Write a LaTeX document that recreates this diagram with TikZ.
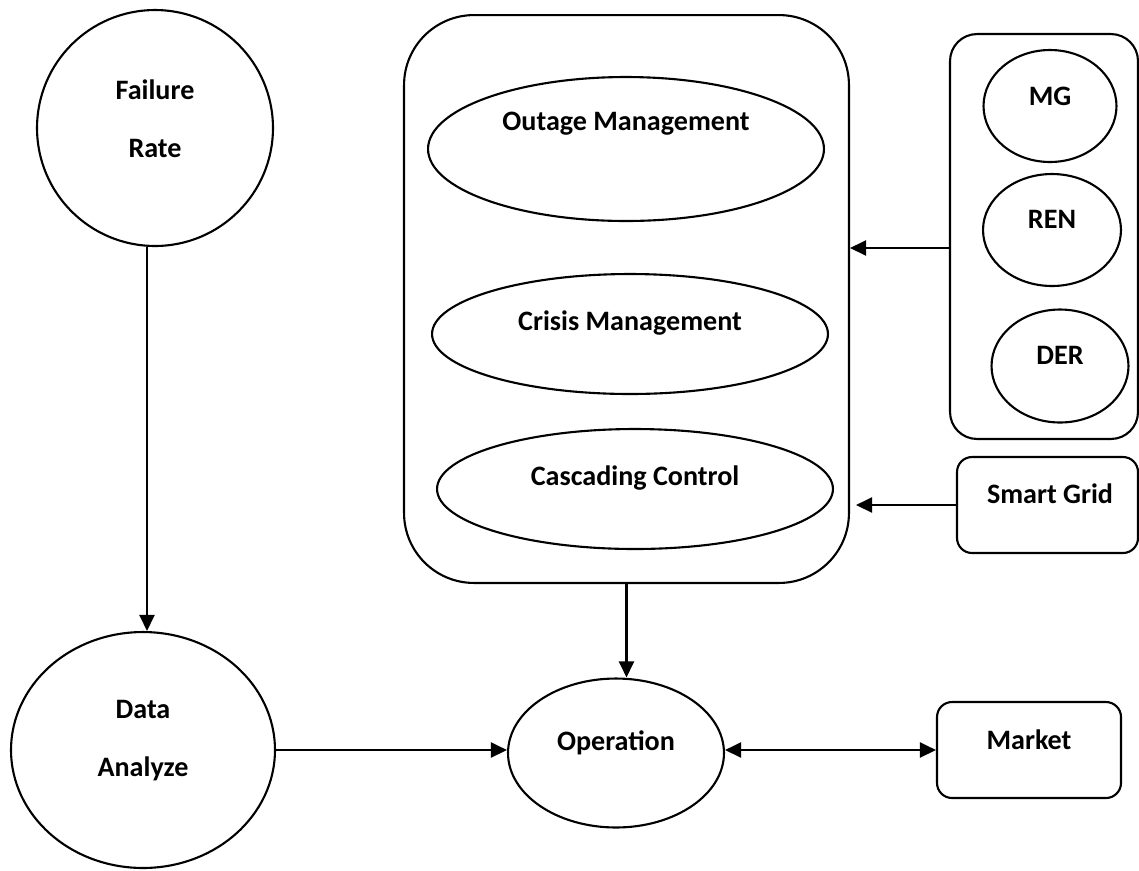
\documentclass[tikz,border=0pt]{standalone}
\usepackage{fontspec}
\setmainfont{Carlito}
\usetikzlibrary{positioning, arrows.meta, shapes.geometric}

\begin{document}
\begin{tikzpicture}[x=0.02cm, y=-0.02cm, line width=1.2pt,
      lbl/.style={font=\bfseries\fontsize{16pt}{33pt}\selectfont, align=center},
      oval/.style={draw, ellipse, inner sep=0pt},
      rbox/.style={draw, rectangle, inner sep=0pt},
      panah/.style={-{Triangle[length=0.32cm, width=0.3cm]}},
      dpanah/.style={{Triangle[length=0.32cm, width=0.3cm]}-{Triangle[length=0.32cm, width=0.3cm]}}
    ]
    \useasboundingbox (0,0) rectangle (1139,870);

    % ─── Left column ─────────────────────────────────────────────
    \node[oval, circle, minimum size=4.72cm,
          label={[lbl, yshift=0.18cm]center:{Failure\\Rate}}] (fail) at (155,128) {};
    \node[oval, minimum width=5.28cm, minimum height=4.72cm,
          label={[lbl, yshift=0.18cm]center:{Data\\Analyze}}] (ana) at (143,750) {};

    % ─── Management block (middle) ───────────────────────────────
    \node[rbox, rounded corners=1.4cm, minimum width=8.9cm, minimum height=11.36cm] (mgmt) at (626.5,299) {};
    \node[oval, minimum width=7.92cm, minimum height=2.88cm,
          label={[lbl, yshift=0.5cm]center:Outage Management}] (outage) at (626,149) {};
    \node[oval, minimum width=7.92cm, minimum height=2.4cm,
          label={[lbl, yshift=0.22cm]center:Crisis Management}] (crisis) at (630,334) {};
    \node[oval, minimum width=7.92cm, minimum height=2.4cm,
          label={[lbl, yshift=0.22cm]center:Cascading Control}] (cascade) at (635,489) {};

    % ─── Resources block (right) ─────────────────────────────────
    \node[rbox, rounded corners=0.54cm, minimum width=3.76cm, minimum height=8.1cm] (res) at (1044,236.5) {};
    \node[oval, minimum width=2.66cm, minimum height=2.24cm,
          label={[lbl, yshift=0.2cm]center:MG}] (mg) at (1050,106) {};
    \node[oval, minimum width=2.76cm, minimum height=2.24cm,
          label={[lbl, yshift=0.22cm]center:REN}] (ren) at (1052,230) {};
    \node[oval, minimum width=2.74cm, minimum height=2.26cm,
          label={[lbl, yshift=0.22cm]center:DER}] (der) at (1060,366) {};

    \node[rbox, rounded corners=0.3cm, minimum width=3.62cm, minimum height=1.92cm,
          label={[lbl, yshift=0.22cm, xshift=0.05cm]center:Smart Grid}] (grid) at (1047.5,505) {};

    % ─── Bottom row ──────────────────────────────────────────────
    \node[oval, minimum width=4.32cm, minimum height=2.98cm,
          label={[lbl, yshift=0.2cm]center:Operation}] (op) at (616,753) {};
    \node[rbox, rounded corners=0.3cm, minimum width=3.68cm, minimum height=1.92cm,
          label={[lbl, yshift=0.2cm]center:Market}] (market) at (1029,750) {};

    % ─── Arrows ──────────────────────────────────────────────────
    \draw[panah] ([xshift=-0.16cm]fail.south) -- ([xshift=-0.16cm]fail.south |- ana.north);
    \draw[panah] (ana.east) -- (ana.east -| op.west);
    \draw[panah] (mgmt.south) -- (mgmt.south |- op.north);
    \draw[panah] ([yshift=-0.23cm]res.west) -- ([yshift=-0.23cm]res.west -| mgmt.east);
    \draw[panah] (grid.west) -- ([xshift=0.12cm]grid.west -| mgmt.east);
    \draw[dpanah] (market.west -| op.east) -- (market.west);

\end{tikzpicture}
\end{document}
